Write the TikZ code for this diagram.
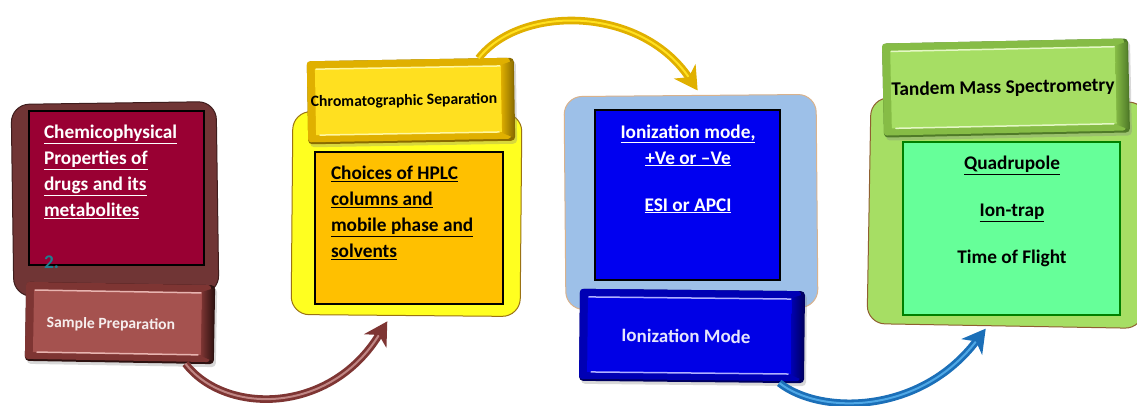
\documentclass[tikz,border=0pt]{standalone}
\usepackage{fontspec}
\setmainfont{Carlito}
\usetikzlibrary{arrows.meta,calc,shadows}
% colours
\definecolor{aface}{HTML}{A5524F}\definecolor{adark}{HTML}{2E1211}\definecolor{ahi}{HTML}{E8B4B0}\definecolor{amid}{HTML}{7E3533}
\definecolor{bface}{HTML}{FFE020}\definecolor{bdark}{HTML}{8A6C00}\definecolor{bhi}{HTML}{FFF7A0}\definecolor{bmid}{HTML}{E0B000}
\definecolor{cface}{HTML}{0000E6}\definecolor{cdark}{HTML}{000060}\definecolor{chi}{HTML}{B0B0FF}\definecolor{cmid}{HTML}{0000B4}
\definecolor{dface}{HTML}{A6DE64}\definecolor{ddark}{HTML}{4F7A28}\definecolor{dhi}{HTML}{E4F8C4}\definecolor{dmid}{HTML}{86BC46}
\definecolor{crimsonb}{HTML}{990033}\definecolor{tealb}{HTML}{1F7F8F}\definecolor{maroonb}{HTML}{703535}
\definecolor{yellowb}{HTML}{FFFF20}\definecolor{orangeb}{HTML}{FFC000}\definecolor{blueb}{HTML}{9DC0E8}
\definecolor{greenb}{HTML}{66FF99}\definecolor{innerblue}{HTML}{0000F0}
\definecolor{arrowblue}{HTML}{1B6FB8}\definecolor{arrowblueb}{HTML}{4FA8E6}
\tikzset{
  x=1pt,y=-1pt,
  outerbox/.style={rounded corners=18pt,line width=1pt,inner sep=0pt,outer sep=0pt},
  innerbox/.style={line width=1.3pt,inner sep=0pt,outer sep=0pt},
  bodytext/.style={font=\fontsize{19.3}{26}\selectfont\bfseries,inner sep=0pt,outer sep=0pt},
  tabtext/.style={font=\bfseries,inner sep=0pt,outer sep=0pt},
  flow/.style={line width=2.8pt,double distance=2pt,
     -{Stealth[length=23pt,width=26pt,inset=7pt]}},
}
% name, centre, width, height, rotation, colour prefix, label options, text with size
\newcommand{\bevelbox}[8]{%
  \node[minimum width=#3pt,minimum height=#4pt,fill=#6dark,rounded corners=4pt,rotate=#5,
        inner sep=0pt,outer sep=0pt,
        drop shadow={shadow xshift=2pt,shadow yshift=-3pt,opacity=.3}] (#1) at (#2) {};
  \begin{scope}[shift={(#1.center)},rotate=#5]
    \pgfmathsetmacro{\hw}{#3/2}\pgfmathsetmacro{\hh}{#4/2}
    \fill[#6mid,rounded corners=3pt] (-\hw,-\hh) rectangle (\hw-4,\hh-2);
    \fill[#6face] (-\hw+8,-\hh+8) rectangle (\hw-13,\hh-9);
    \shade[left color=#6mid,right color=#6dark] (\hw-13,-\hh+7) -- (\hw-1,-\hh+3) -- (\hw-1,\hh-3) -- (\hw-13,\hh-8) -- cycle;
    \draw[#6hi,line width=1.5pt,line cap=round] (-\hw+9,-\hh+8) -- (\hw-14,-\hh+8);
    \draw[#6hi,line width=1.5pt,line cap=round] (-\hw+12,\hh-9) -- (\hw-16,\hh-9);
  \end{scope}
  \node[tabtext,rotate=#5,#7] (#1-label) at (#1.center) {#8};
}
\begin{document}
\begin{tikzpicture}
\useasboundingbox (0,0) rectangle (1137,405);
\fill[white] (0,0) rectangle (1137,405);

% step 1
\node[outerbox,fill=maroonb,draw=maroonb!55!black,minimum width=205pt,minimum height=192pt,rotate=.8] (outerA) at (115,199) {};
\node[innerbox,fill=crimsonb,draw=black,minimum width=175pt,minimum height=154pt] (innerA) at (116.5,188) {};
\node[bodytext,text=white,align=left,anchor=north west] (textA) at (44,125)
  {\underline{Chemicophysical}\\\underline{Properties of}\\\underline{drugs and its}\\\underline{metabolites}\\\\\textcolor{tealb}{2.}};
\bevelbox{tabA}{120,323}{189}{79}{-1}{a}{text=white!90!aface,xshift=-9pt,yshift=-1.5pt}{\fontsize{15.7}{20}\selectfont Sample Preparation}

% step 2
\node[outerbox,fill=yellowb,draw=bdark!70!brown,minimum width=229pt,minimum height=203pt,rotate=-.5] (outerB) at (406.5,214) {};
\node[innerbox,fill=orangeb,draw=black,minimum width=188pt,minimum height=152pt] (innerB) at (409,228) {};
\node[bodytext,text=black,align=left,anchor=north west] (textB) at (331,166)
  {\underline{Choices of HPLC}\\\underline{columns and}\\\underline{mobile phase and}\\\underline{solvents}};
\bevelbox{tabB}{411,101}{207}{83}{1}{b}{text=black,xshift=-7pt}{\fontsize{15.7}{20}\selectfont Chromatographic Separation}

% step 3
\node[outerbox,fill=blueb,draw=brown!60,minimum width=252pt,minimum height=213pt,rotate=.5] (outerC) at (691,202) {};
\node[innerbox,fill=innerblue,draw=black,minimum width=185pt,minimum height=170pt] (innerC) at (687.5,195) {};
\node[bodytext,text=white,align=center,anchor=north] (textC) at (688,124.5)
  {\underline{Ionization mode,}\\\underline{+Ve or –Ve}\\[-5pt]\\\underline{ESI or APCI}};
\bevelbox{tabC}{692,336}{225}{92}{-.6}{c}{text=white!90!cface,xshift=-6pt}{\fontsize{19}{22}\selectfont Ionization Mode}

% step 4
\node[outerbox,fill=dface,draw=brown!75!black,minimum width=276pt,minimum height=226pt,rotate=-1] (outerD) at (1007,213) {};
\node[innerbox,fill=greenb,draw=green!50!black,minimum width=217pt,minimum height=173pt] (innerD) at (1011.5,228.5) {};
\node[bodytext,text=black,align=center,anchor=north] (textD) at (1012,156)
  {\underline{Quadrupole}\\[21pt]\underline{Ion-trap}\\[21pt]Time of Flight};
\bevelbox{tabD}{1006,88}{246}{94}{1.2}{d}{text=black,xshift=-3pt}{\fontsize{19.3}{22}\selectfont Tandem Mass Spectrometry}

% connectors
\draw[flow,color=amid,double=aface!70!white]
  ($(tabA.south west)!.85!(tabA.south east)$) .. controls (225,415) and (330,415) .. ($(outerB.south west)!.42!(outerB.south east)+(0,6)$);
\draw[flow,color=bmid,double=bface]
  ($(tabB.north west)!.83!(tabB.north east)$) .. controls (520,5) and (640,5) .. ($(outerC.north west)!.53!(outerC.north east)+(0,-5)$);
\draw[flow,color=arrowblue,double=arrowblueb]
  ($(tabC.south west)!.89!(tabC.south east)$) .. controls (820,415) and (920,415) .. ($(outerD.south west)!.43!(outerD.south east)+(0,3)$);
\end{tikzpicture}
\end{document}
